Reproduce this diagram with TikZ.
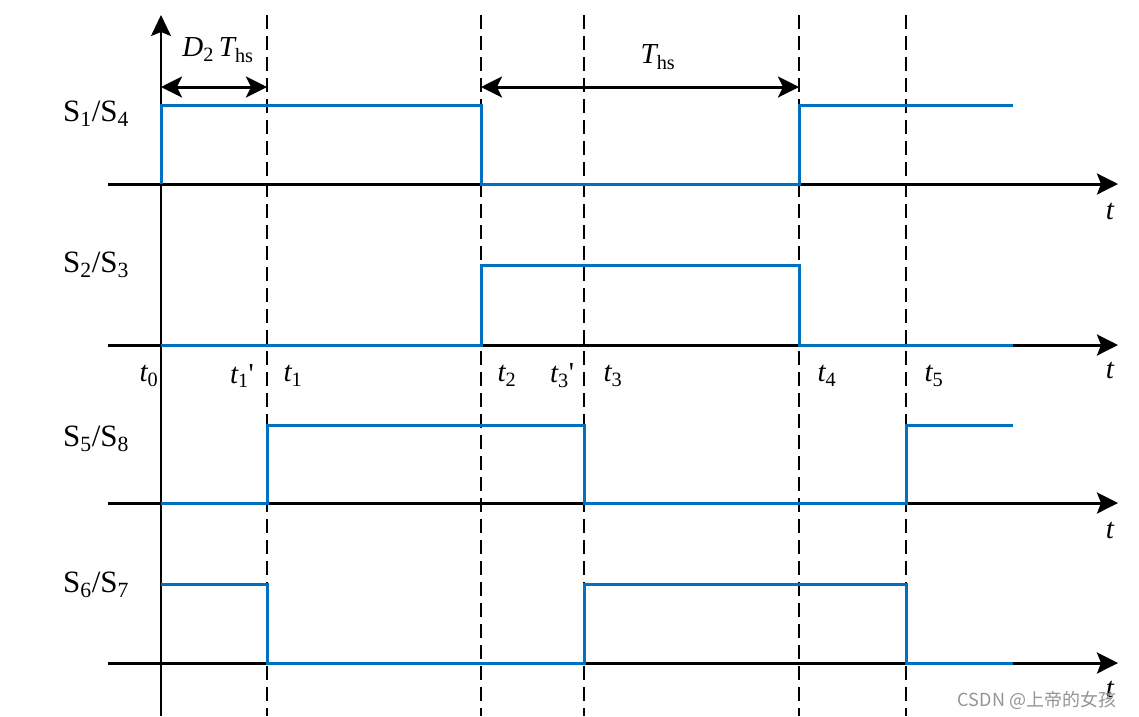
\documentclass[tikz,border=0pt]{standalone}
\usepackage{fontspec}
\setmainfont{Liberation Serif}
\newfontfamily\cjkfont{Noto Sans CJK SC}
\usepackage{xcolor}
\usetikzlibrary{arrows.meta}
\definecolor{sigblue}{RGB}{0,112,192}

\begin{document}
\begin{tikzpicture}[
    x = 1pt, y = -1pt,
    axis/.style = {line width=3pt, -{Stealth[length=21pt, width=21pt, inset=4pt]}},
    guide/.style = {line width=2pt, dash pattern=on 14pt off 7pt},
    signal/.style = {line width=3pt, sigblue},
    span/.style = {line width=3pt,
                   {Stealth[length=21pt, width=21pt, inset=5pt]}-{Stealth[length=21pt, width=21pt, inset=5pt]}},
    lbl/.style = {font=\fontsize{31}{31}\selectfont, inner sep=0pt},
    tlbl/.style = {font=\fontsize{29}{29}\selectfont\itshape, inner sep=0pt}
  ]
    \useasboundingbox (0,0) rectangle (1139,716);

    % dashed guides at the switching instants
    \foreach \x/\n in {267/1, 481/2, 584/3, 799/4, 906/5} {
      \coordinate (g\n) at (\x,15);
      \coordinate (h\n) at (\x,716);
      \draw[guide] (g\n) -- (h\n);
    }

    % time axes
    \foreach \y/\n in {184/1, 345/2, 503/3, 663/4} {
      \coordinate (a\n) at (108,\y);
      \coordinate (b\n) at (1118,\y);
      \draw[axis] (a\n) -- (b\n);
    }
    \coordinate (o) at (161,716);
    \coordinate (top) at (161,15);
    \draw[line width=2pt, -{Stealth[length=21pt, width=20pt, inset=4pt]}] (o) -- (top);

    % gate signals
    \draw[signal] (161,184) -- (161,105) -- (481,105) -- (481,184) -- (799,184) -- (799,105) -- (1013,105);
    \draw[signal] (161,345) -- (481,345) -- (481,265) -- (799,265) -- (799,345) -- (1013,345);
    \draw[signal] (161,503) -- (267,503) -- (267,425) -- (584,425) -- (584,503) -- (906,503) -- (906,425) -- (1013,425);
    \draw[signal] (161,584) -- (267,584) -- (267,663) -- (584,663) -- (584,584) -- (906,584) -- (906,663) -- (1013,663);

    % switch names
    \node[lbl, anchor=base west] (s14) at (63,121) {S\textsubscript{1}/S\textsubscript{4}};
    \node[lbl, anchor=base west] (s23) at (63,272) {S\textsubscript{2}/S\textsubscript{3}};
    \node[lbl, anchor=base west] (s58) at (63,446) {S\textsubscript{5}/S\textsubscript{8}};
    \node[lbl, anchor=base west] (s67) at (63,592) {S\textsubscript{6}/S\textsubscript{7}};

    % axis names
    \node[tlbl] (ax1) at (1110,211) {t};
    \node[tlbl] (ax2) at (1110,370) {t};
    \node[tlbl] (ax3) at (1110,530) {t};
    \node[tlbl] (ax4) at (1110,689) {t};

    % instants
    \node[tlbl] (t0)  at (149,376) {t\textsubscript{\upshape 0}};
    \node[tlbl] (t1p) at (242,376) {t\textsubscript{\upshape 1}\upshape\textquotesingle};
    \node[tlbl] (t1)  at (293,376) {t\textsubscript{\upshape 1}};
    \node[tlbl] (t2)  at (507,376) {t\textsubscript{\upshape 2}};
    \node[tlbl] (t3p) at (562,376) {t\textsubscript{\upshape 3}\upshape\textquotesingle};
    \node[tlbl] (t3)  at (613,376) {t\textsubscript{\upshape 3}};
    \node[tlbl] (t4)  at (827,376) {t\textsubscript{\upshape 4}};
    \node[tlbl] (t5)  at (934,376) {t\textsubscript{\upshape 5}};

    % intervals
    \coordinate (d0) at (161,87);
    \coordinate (d1) at (267,87);
    \coordinate (e0) at (481,87);
    \coordinate (e1) at (799,87);
    \draw[span] (d0) -- (d1);
    \draw[span] (e0) -- (e1);
    \node[tlbl] (dts) at (218,50) {D\textsubscript{\upshape 2}\,T\textsubscript{\upshape hs}};
    \node[tlbl] (ts)  at (658,57) {T\textsubscript{\upshape hs}};

    \node[font=\cjkfont\fontsize{18}{18}\selectfont, text=black!42, inner sep=0pt] (wm) at (1037,700) {CSDN @上帝的女孩};
  \end{tikzpicture}
\end{document}
